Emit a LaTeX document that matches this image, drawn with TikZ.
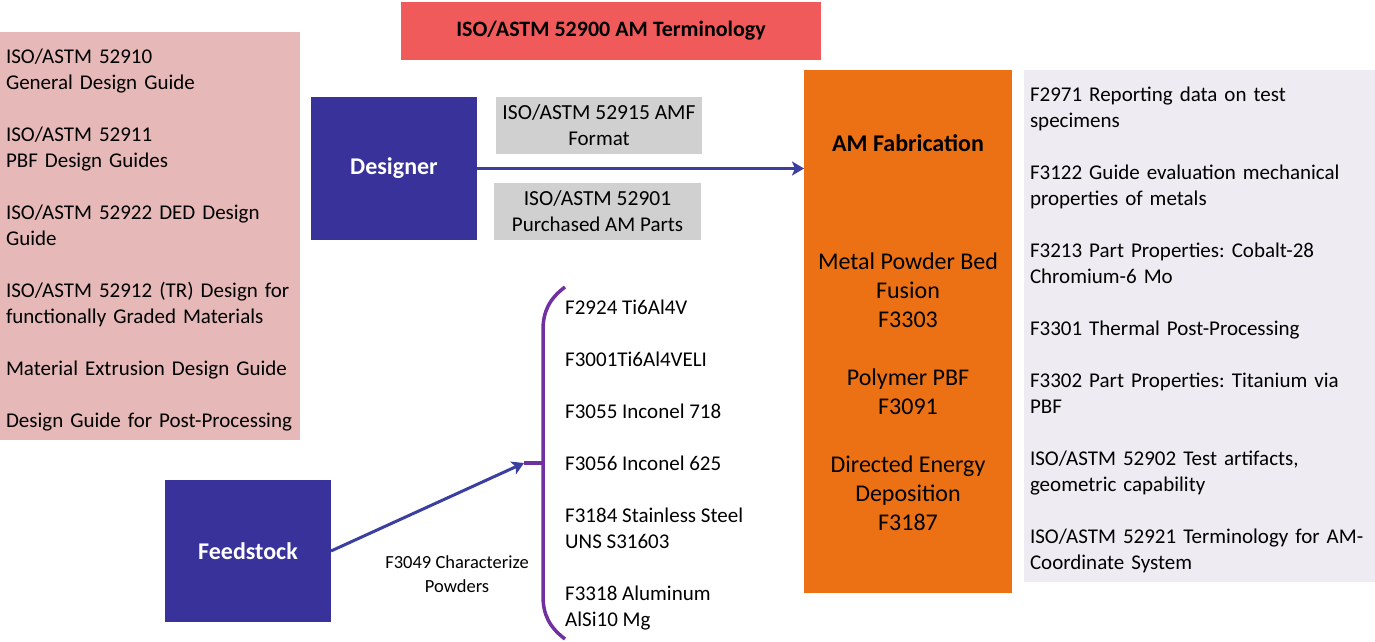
\documentclass[tikz,border=0pt]{standalone}
\usepackage{fontspec}
\setmainfont{Carlito}
\usetikzlibrary{arrows.meta}
\definecolor{pinkbox}{HTML}{E6B9B8}
\definecolor{redbox}{HTML}{F05A5A}
\definecolor{navy}{HTML}{38329A}
\definecolor{grayb}{HTML}{D0D0D0}
\definecolor{orangeb}{HTML}{EC7115}
\definecolor{lav}{HTML}{EEECF2}
\definecolor{arrowblue}{HTML}{3A3FA0}
\definecolor{purp}{HTML}{7030A0}
\frenchspacing
\tikzset{
  box/.style={draw=none, inner sep=0pt, outer sep=0pt},
  body/.style={font=\fontsize{21}{26}\selectfont},
  bigb/.style={font=\fontsize{24}{28}\selectfont\bfseries},
  fab/.style={font=\fontsize{24}{29}\selectfont, align=center, inner sep=0pt},
  conn/.style={draw=arrowblue, line width=3pt, -{Stealth[length=12pt,width=14pt,inset=3pt]}},
}
\begin{document}
\begin{tikzpicture}[x=1pt,y=-1pt]
\useasboundingbox (0,0) rectangle (1375,642);
% title
\node[box, fill=redbox, minimum width=420pt, minimum height=58pt, anchor=north west,
  font=\fontsize{22}{26}\selectfont\bfseries] (title) at (401,2) {ISO/ASTM 52900 AM Terminology};
% pink left box
\node[box, fill=pinkbox, body, minimum width=300pt, minimum height=408pt, anchor=north west,
  align=left, text width=288pt] (guides) at (0,32) {%
\rule{0pt}{22pt}ISO/ASTM 52910\\General Design Guide\\[26pt]
ISO/ASTM 52911\\PBF Design Guides\\[26pt]
ISO/ASTM 52922 DED Design\\Guide\\[26pt]
ISO/ASTM 52912 (TR) Design for\\functionally Graded Materials\\[26pt]
Material Extrusion Design Guide\\[26pt]
Design Guide for Post-Processing};
% designer
\node[box, fill=navy, text=white, bigb, minimum width=166pt, minimum height=143pt, anchor=north west] (designer) at (311,97) {Designer};
% gray boxes
\node[box, fill=grayb, body, align=center, minimum width=206pt, minimum height=57pt, anchor=north west] (amf) at (496,97) {\fontsize{21.5}{26.5}\selectfont ISO/ASTM 52915 AMF\\Format};
\node[box, fill=grayb, body, align=center, minimum width=207pt, minimum height=57pt, anchor=north west] (purch) at (494,183) {\fontsize{21.5}{26.5}\selectfont ISO/ASTM 52901\\Purchased AM Parts};
% orange fabrication
\node[box, fill=orangeb, minimum width=208pt, minimum height=523pt, anchor=north west] (amfab) at (804,70) {};
\node[bigb, inner sep=0pt] (amfabt) at (908,143) {AM Fabrication};
\node[fab] (mpbf) at (908,290) {Metal Powder Bed\\Fusion\\F3303};
\node[fab] (ppbf) at (908,392) {Polymer PBF\\F3091};
\node[fab] (ded) at (908,493) {Directed Energy\\Deposition\\F3187};
% right box
\node[box, fill=lav, body, minimum width=351pt, minimum height=512pt, anchor=north west,
  align=left, text width=347pt] (tests) at (1024,70) {%
\rule{0pt}{22pt}\hspace*{4pt}F2971 Reporting data on test\\\hspace*{4pt}specimens\\[26pt]
\hspace*{4pt}F3122 Guide evaluation mechanical\\\hspace*{4pt}properties of metals\\[26pt]
\hspace*{4pt}F3213 Part Properties: Cobalt-28\\\hspace*{4pt}Chromium-6 Mo\\[26pt]
\hspace*{4pt}F3301 Thermal Post-Processing\\[26pt]
\hspace*{4pt}F3302 Part Properties: Titanium via\\\hspace*{4pt}PBF\\[26pt]
\hspace*{4pt}ISO/ASTM 52902 Test artifacts,\\\hspace*{4pt}geometric capability\\[26pt]
\hspace*{4pt}ISO/ASTM 52921 Terminology for AM-\\\hspace*{4pt}Coordinate System};
% feedstock
\node[box, fill=navy, text=white, bigb, minimum width=166pt, minimum height=142pt, anchor=north west] (feed) at (165,480) {Feedstock};
% powders list
\node[body, align=left, inner sep=0pt, anchor=west] (powders) at (565,465) {%
F2924 Ti6Al4V\\[26pt]
F3001Ti6Al4VELI\\[26pt]
F3055 Inconel 718\\[26pt]
F3056 Inconel 625\\[26pt]
F3184 Stainless Steel\\UNS S31603\\[26pt]
F3318 Aluminum\\AlSi10 Mg};
\node[font=\fontsize{18.5}{24}\selectfont, align=center, inner sep=0pt] (charlbl) at (457,574) {F3049 Characterize\\Powders};
% brace
\coordinate (tip) at (524,463);
\draw[purp, line width=3.5pt] (565,287) .. controls (549,299) and (543,312) .. (543,330) -- (543,596) .. controls (543,614) and (549,627) .. (565,639);
\draw[purp, line width=3.5pt] (543,463) -- (tip);
% connectors
\draw[conn] (designer.east) -- (designer.east -| amfab.west);
\draw[conn] (feed.east) -- (tip);
\end{tikzpicture}
\end{document}
